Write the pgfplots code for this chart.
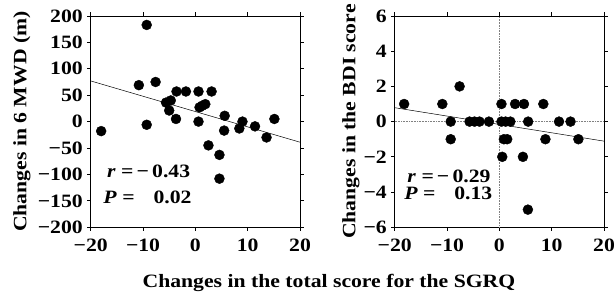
\documentclass[border=0pt]{standalone}
\usepackage{fontspec}
\setmainfont{Liberation Serif}[FakeStretch=1.15]
\usepackage{pgfplots}
\pgfplotsset{compat=1.18}
\begin{document}
\begin{tikzpicture}[font=\fontsize{19}{21}\selectfont\bfseries]
\pgfplotsset{
  panel/.style={
    scale only axis, width=210bp, height=212bp,
    xmin=-20, xmax=20,
    xtick={-20,-10,0,10,20}, xticklabels={−20,−10,0,10,20},
    tick align=outside, major tick length=3.5bp,
    axis line style={line width=0.8pt},
    every tick/.style={black, line width=0.8pt},
    tick label style={font=\fontsize{19}{21}\selectfont\bfseries},
    label style={font=\fontsize{19}{21}\selectfont\bfseries},
    xticklabel style={yshift=-5bp},
    yticklabel style={xshift=-1bp},
    clip=false,
  },
  pts/.style={only marks, mark=*, mark size=5bp, black},
  reg/.style={no marks, black, line width=0.5pt},
}
\begin{axis}[panel,
  ymin=-200, ymax=200,
  ytick={-200,-150,-100,-50,0,50,100,150,200},
  yticklabels={−200,−150,−100,−50,0,50,100,150,200},
  ylabel={Changes in 6 MWD (m)},
  ylabel style={at={(axis description cs:0,0.5)}, anchor=center, rotate=0, yshift=69bp},
]
\addplot[reg] coordinates {(-20,77) (20,-39)};
\addplot[pts] coordinates {
(-18,-18) (-9.3,183) (-10.8,69) (-9.3,-6) (-7.6,75) (-5.6,36) (-4.7,40)
(-5,21) (-3.6,57) (-1.8,57) (-3.7,5) (0.6,57) (0.6,0) (0.8,27) (1.3,30)
(1.9,33) (3.1,57) (2.5,-45) (4.6,-63) (4.6,-108) (5.6,11) (5.5,-17)
(8.4,-13) (9,0) (11.4,-9) (13.6,-30) (15.1,5)
};
\node[anchor=west, inner sep=0pt] at (axis cs:-16.9,-94) {\textit{r} =\,−\,0.43};
\node[anchor=west, inner sep=0pt] at (axis cs:-17.6,-143) {\textit{P} =\quad 0.02};
\end{axis}
\begin{axis}[panel, at={(305bp,0)},
  ymin=-6, ymax=6,
  ytick={-6,-4,-2,0,2,4,6},
  yticklabels={−6,−4,−2,0,2,4,6},
  ylabel={Changes in the BDI score},
  ylabel style={at={(axis description cs:0,0.5)}, anchor=center, yshift=44bp},
]
\addplot[no marks, gray, densely dotted, line width=0.6pt] coordinates {(0,-6) (0,6)};
\addplot[no marks, gray, densely dotted, line width=0.6pt] coordinates {(-20,0) (20,0)};
\addplot[reg] coordinates {(-20,0.79) (20,-1.11)};
\addplot[pts] coordinates {
(-18.2,1) (-10.9,1) (-7.6,2) (-9.3,0) (-9.3,-1)
(-5.7,0) (-4.75,0) (-3.8,0) (-2.0,0) (0.4,0) (1.2,0) (2.1,0) (5.5,0) (11.4,0) (13.6,0)
(0.4,1) (3.0,1) (4.7,1) (8.4,1)
(0.86,-1) (1.5,-1) (8.8,-1) (15.1,-1)
(0.55,-2) (4.5,-2) (5.45,-5)
};
\node[anchor=west, inner sep=0pt] at (axis cs:-17.6,-3.1) {\textit{r} =\,−\,0.29};
\node[anchor=west, inner sep=0pt] at (axis cs:-18.2,-4.1) {\textit{P} =\quad 0.13};
\end{axis}
\node[font=\fontsize{19}{21}\selectfont\bfseries] at (239bp,-56bp) {Changes in the total score for the SGRQ};
\pgfresetboundingbox
\path[use as bounding box] (-91bp,-68bp) rectangle (526bp,228bp);
\end{tikzpicture}
\end{document}
